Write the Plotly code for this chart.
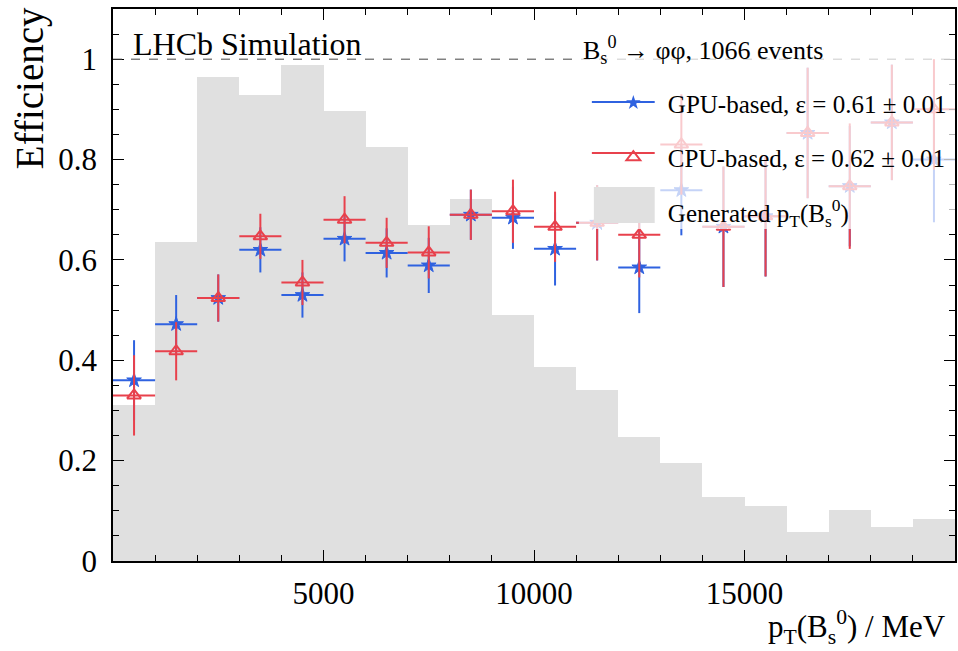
import plotly.graph_objects as go

# ---------------- data ----------------
bin_centers = [500, 1500, 2500, 3500, 4500, 5500, 6500, 7500, 8500, 9500,
               10500, 11500, 12500, 13500, 14500, 15500, 16500, 17500, 18500, 19500]
bin_half_width = [500] * 20

generated = [0.31, 0.635, 0.964, 0.928, 0.988, 0.896, 0.826, 0.67, 0.722, 0.491,
             0.386, 0.341, 0.248, 0.196, 0.127, 0.11, 0.058, 0.102, 0.067, 0.084]

gpu_eff = [0.36, 0.472, 0.524, 0.62, 0.53, 0.642, 0.614, 0.589, 0.69, 0.684,
           0.622, 0.674, 0.585, 0.739, 0.666, 0.687, 0.853, 0.747, 0.874, 0.80]
gpu_err = [0.08, 0.058, 0.047, 0.045, 0.045, 0.045, 0.049, 0.055, 0.05, 0.062,
           0.073, 0.075, 0.091, 0.09, 0.12, 0.12, 0.13, 0.12, 0.115, 0.125]

cpu_eff = [0.33, 0.418, 0.524, 0.647, 0.555, 0.68, 0.634, 0.615, 0.69, 0.697,
           0.666, 0.674, 0.65, 0.83, 0.666, 0.687, 0.853, 0.747, 0.874, 0.90]
cpu_err_up = [0.08, 0.058, 0.047, 0.045, 0.045, 0.047, 0.05, 0.052, 0.05, 0.063,
              0.07, 0.075, 0.085, 0.1, 0.12, 0.12, 0.13, 0.125, 0.115, 0.10]
cpu_err_down = [0.08, 0.058, 0.047, 0.045, 0.045, 0.047, 0.05, 0.052, 0.05, 0.063,
                0.07, 0.075, 0.085, 0.1, 0.12, 0.12, 0.13, 0.125, 0.115, 0.12]

x_tick_vals = [5000, 10000, 15000]
x_tick_text = ["5000", "10000", "15000"]
y_tick_vals = [0, 0.2, 0.4, 0.6, 0.8, 1.0]
y_tick_text = ["0", "0.2", "0.4", "0.6", "0.8", "1"]

gpu_label = "GPU-based, ε = 0.61 ± 0.01"
cpu_label = "CPU-based, ε = 0.62 ± 0.01"
gen_label = "Generated p<sub>T</sub>(B<sub>s</sub><sup>0</sup>)"
header = "B<sub>s</sub><sup>0</sup> → φφ, 1066 events"

# ---------------- style ----------------
FONT = "Liberation Serif"
BLUE = "#2f62e0"
RED = "#e8414c"
GRAY = "#e0e0e0"

W, H = 958, 651
L, R, T, B = 113, 1, 9, 90
PW = W - L - R
PH = H - T - B


def px(xp):
    return (xp - L) / PW


def py(yp):
    return (H - B - yp) / PH


fig = go.Figure()

fig.add_trace(go.Bar(
    x=bin_centers, y=generated, width=[2 * w for w in bin_half_width],
    marker=dict(color=GRAY, line=dict(width=0)), showlegend=False,
    hoverinfo="skip"))

fig.add_trace(go.Scatter(
    x=bin_centers, y=gpu_eff, mode="markers",
    marker=dict(symbol="star", size=11, color=BLUE, line=dict(color=BLUE, width=1)),
    error_x=dict(type="data", array=bin_half_width, width=0, thickness=2, color=BLUE),
    error_y=dict(type="data", array=gpu_err, width=0, thickness=2, color=BLUE),
    showlegend=False))

fig.add_trace(go.Scatter(
    x=bin_centers, y=cpu_eff, mode="markers",
    marker=dict(symbol="triangle-up-open", size=12, color=RED, line=dict(color=RED, width=2)),
    error_x=dict(type="data", array=bin_half_width, width=0, thickness=2, color=RED),
    error_y=dict(type="data", array=cpu_err_up, arrayminus=cpu_err_down,
                 width=0, thickness=2, color=RED),
    showlegend=False))

# legend-only entries
fig.add_trace(go.Scatter(x=[None], y=[None], mode="markers", name=gpu_label,
                         legendgroup="a",
                         marker=dict(symbol="star", size=11, color=BLUE)))
fig.add_trace(go.Scatter(x=[None], y=[None], mode="markers", name=cpu_label,
                         legendgroup="b",
                         marker=dict(symbol="triangle-up-open", size=12, color=RED,
                                     line=dict(color=RED, width=2))))
fig.add_trace(go.Scatter(x=[None], y=[None], mode="markers", name=gen_label,
                         legendgroup="c",
                         marker=dict(symbol="square", size=12, color=GRAY)))

shapes = [
    dict(type="line", xref="x", yref="y", x0=0, x1=20000, y0=1, y1=1,
         line=dict(color="#444444", width=1, dash="dash"), layer="above"),
    dict(type="rect", xref="paper", yref="paper", x0=px(580), x1=1.0,
         y0=py(229), y1=py(36), fillcolor="rgba(255,255,255,0.72)",
         line=dict(width=0), layer="above"),
    dict(type="line", xref="paper", yref="paper", x0=px(593), x1=px(656),
         y0=py(102), y1=py(102), line=dict(color=BLUE, width=2), layer="above"),
    dict(type="line", xref="paper", yref="paper", x0=px(593), x1=px(656),
         y0=py(153), y1=py(153), line=dict(color=RED, width=2), layer="above"),
    dict(type="rect", xref="paper", yref="paper", x0=px(595), x1=px(656),
         y0=py(223), y1=py(187), fillcolor=GRAY, line=dict(width=0), layer="above"),
]

annotations = [
    dict(text="LHCb Simulation", xref="paper", yref="paper", x=px(131), y=py(64),
         xanchor="left", yanchor="bottom", showarrow=False,
         font=dict(family=FONT, size=32, color="black")),
    dict(text=header, xref="paper", yref="paper", x=px(582), y=py(50),
         xanchor="left", yanchor="middle", showarrow=False,
         font=dict(family=FONT, size=26, color="black")),
    dict(text="Efficiency", xref="paper", yref="paper", x=px(30), y=py(5),
         xanchor="center", yanchor="top", textangle=-90, showarrow=False,
         font=dict(family=FONT, size=39, color="black")),
    dict(text="p<sub>T</sub>(B<sub>s</sub><sup>0</sup>) / MeV", xref="paper",
         yref="paper", x=px(950), y=py(603), xanchor="right", yanchor="top",
         showarrow=False, font=dict(family=FONT, size=31, color="black")),
]

fig.update_layout(
    width=W, height=H,
    margin=dict(l=L, r=R, t=T, b=B),
    paper_bgcolor="white", plot_bgcolor="white",
    bargap=0,
    font=dict(family=FONT, color="black"),
    shapes=shapes, annotations=annotations,
    legend=dict(x=px(600), y=py(80), xanchor="left", yanchor="top",
                bgcolor="rgba(0,0,0,0)", borderwidth=0,
                font=dict(family=FONT, size=25, color="black"),
                itemwidth=59, tracegroupgap=19, traceorder="grouped"),
    showlegend=True,
)

fig.update_xaxes(
    range=[0, 20000], showgrid=False, zeroline=False,
    showline=True, linecolor="black", linewidth=1.5, mirror="allticks",
    ticks="inside", ticklen=11, tickwidth=1, tickcolor="black",
    tickvals=x_tick_vals, ticktext=x_tick_text, ticklabelstandoff=4,
    tickfont=dict(family=FONT, size=31, color="black"),
    minor=dict(dtick=1000, tick0=0, ticks="inside", ticklen=6, tickcolor="black"),
)
fig.update_yaxes(
    range=[0, 1.1], showgrid=False, zeroline=False,
    showline=True, linecolor="black", linewidth=1.5, mirror="allticks",
    ticks="inside", ticklen=11, tickwidth=1, tickcolor="black",
    tickvals=y_tick_vals, ticktext=y_tick_text, ticklabelstandoff=8,
    tickfont=dict(family=FONT, size=31, color="black"),
    minor=dict(dtick=0.05, tick0=0, ticks="inside", ticklen=6, tickcolor="black"),
)

fig.write_html("out.html",
               config={"displayModeBar": False},
               post_script="document.body.style.margin='0px';"
                           "document.body.style.overflow='hidden';")
